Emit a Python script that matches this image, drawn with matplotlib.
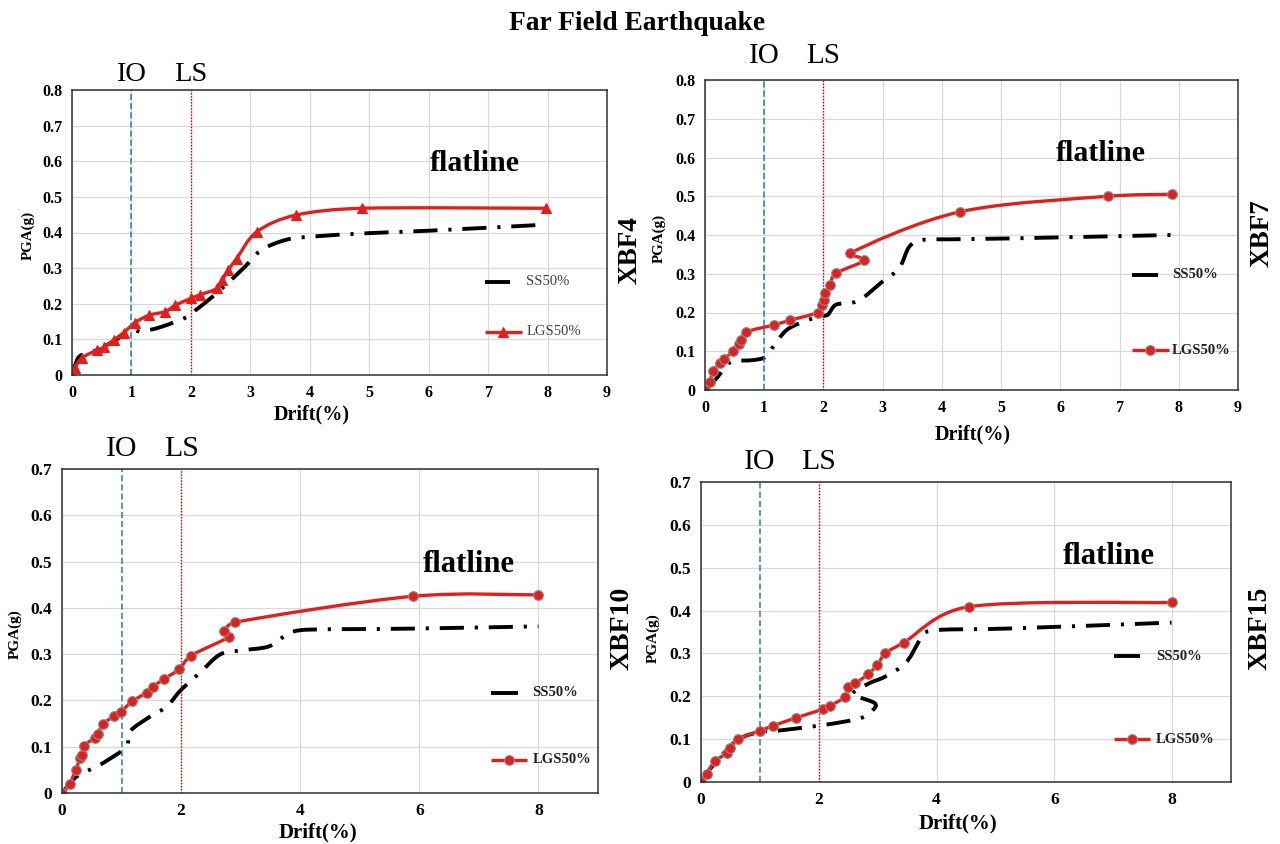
"""
Pushover-style PGA vs drift curves for four frames under far field records.
"""

import numpy as np
import matplotlib
matplotlib.use("Agg")
import matplotlib.pyplot as plt
from matplotlib.path import Path
from matplotlib.patches import PathPatch
from matplotlib.lines import Line2D
import matplotlib.transforms as mtransforms

plt.rcParams["font.family"] = ["Liberation Serif", "DejaVu Serif"]

FIG_W, FIG_H = 1280, 844

# =============================================================================
# DATA
# =============================================================================

# XBF4
LGS_X4 = [0, 0.05, 0.16, 0.42, 0.54, 0.70, 0.87, 1.06, 1.30, 1.57, 1.74, 2.00, 2.15,
          2.44, 2.53, 2.63, 2.77, 3.11, 3.77, 4.88, 7.98]
LGS_Y4 = [0, 0.019, 0.047, 0.070, 0.078, 0.098, 0.119, 0.147, 0.168, 0.178, 0.196, 0.215,
          0.225, 0.243, 0.267, 0.295, 0.327, 0.402, 0.449, 0.468, 0.468]
SS_X4 = [0, 0.08, 0.16, 0.45, 0.80, 1.00, 1.16, 1.50, 1.95, 2.08, 2.43, 2.91, 3.18, 3.59,
         4.00, 4.97, 6.00, 7.85]
SS_Y4 = [0, 0.040, 0.056, 0.072, 0.105, 0.126, 0.122, 0.135, 0.164, 0.182, 0.229, 0.304,
         0.350, 0.379, 0.388, 0.398, 0.405, 0.421]

# XBF7
LGS_X7 = [0, 0.08, 0.14, 0.26, 0.32, 0.47, 0.57, 0.61, 0.70, 1.17, 1.43, 1.90, 1.97, 2.01,
          2.03, 2.11, 2.21, 2.69, 2.45, 4.31, 6.81, 7.88]
LGS_Y7 = [0, 0.020, 0.050, 0.070, 0.080, 0.100, 0.120, 0.130, 0.150, 0.168, 0.180, 0.200,
          0.220, 0.232, 0.250, 0.271, 0.301, 0.335, 0.353, 0.460, 0.500, 0.505]
SS_X7 = [0, 0.17, 0.38, 0.48, 0.80, 1.03, 1.17, 1.38, 1.66, 1.93, 2.07, 2.21, 2.48, 2.66,
         3.03, 3.28, 3.45, 3.66, 4.20, 5.10, 7.86]
SS_Y7 = [0, 0.026, 0.065, 0.075, 0.077, 0.086, 0.116, 0.155, 0.176, 0.190, 0.194, 0.220,
         0.225, 0.237, 0.284, 0.314, 0.370, 0.387, 0.389, 0.391, 0.400]

# XBF10
LGS_X10 = [0, 0.13, 0.23, 0.31, 0.34, 0.37, 0.55, 0.60, 0.69, 0.88, 0.99, 1.18, 1.42, 1.52,
           1.71, 1.97, 2.17, 2.80, 2.72, 2.91, 5.89, 8.00]
LGS_Y10 = [0, 0.020, 0.050, 0.076, 0.083, 0.102, 0.119, 0.128, 0.149, 0.167, 0.176, 0.198,
           0.217, 0.229, 0.246, 0.268, 0.297, 0.337, 0.349, 0.369, 0.425, 0.428]
SS_X10 = [0, 0.25, 0.53, 0.73, 1.08, 1.14, 1.49, 1.76, 2.00, 2.31, 2.65, 3.00, 3.48, 3.82,
          4.16, 5.80, 8.00]
SS_Y10 = [0, 0.036, 0.054, 0.068, 0.100, 0.133, 0.166, 0.187, 0.223, 0.259, 0.299, 0.308,
          0.317, 0.346, 0.353, 0.355, 0.360]

# XBF15
LGS_X15 = [0, 0.10, 0.23, 0.44, 0.50, 0.63, 1.01, 1.22, 1.62, 2.07, 2.19, 2.45, 2.50, 2.62,
           2.83, 2.99, 3.13, 3.44, 4.55, 8.00]
LGS_Y15 = [0, 0.019, 0.048, 0.067, 0.079, 0.100, 0.120, 0.131, 0.150, 0.170, 0.178, 0.199,
           0.221, 0.230, 0.251, 0.272, 0.300, 0.325, 0.409, 0.419]
SS_X15 = [0, 0.21, 0.63, 1.04, 1.25, 2.08, 2.71, 2.92, 2.95, 2.64, 2.57, 2.85, 3.13, 3.47,
          3.68, 3.78, 4.03, 5.20, 7.99]
SS_Y15 = [0, 0.040, 0.099, 0.118, 0.119, 0.133, 0.149, 0.168, 0.184, 0.200, 0.207, 0.230,
          0.246, 0.277, 0.323, 0.347, 0.355, 0.358, 0.372]

IO_DRIFT = 1.0
LS_DRIFT = 2.0

RED = "#e0201c"
BLUE = "#2e75b6"
DARK_RED = "#c00000"


def px_rect(left, top, right, bottom):
    return [left / FIG_W, 1 - bottom / FIG_H, (right - left) / FIG_W, (bottom - top) / FIG_H]


def smooth_path(xs, ys, span, limit=0.4):
    """Excel-like smoothed line: Catmull-Rom Beziers, tangents clamped to avoid loops."""
    scale = np.asarray(span, dtype=float)
    pts = np.column_stack([xs, ys]).astype(float) / scale
    n = len(pts)
    verts = [pts[0]]
    codes = [Path.MOVETO]

    def clamp(d, seg):
        lim = limit * np.hypot(*seg)
        norm = np.hypot(*d)
        return d * (lim / norm) if norm > lim else d

    for i in range(n - 1):
        p0 = pts[i - 1] if i > 0 else pts[i]
        p1, p2 = pts[i], pts[i + 1]
        p3 = pts[i + 2] if i + 2 < n else pts[i + 1]
        seg = p2 - p1
        d1 = clamp((p2 - p0) / 6, seg)
        d2 = clamp((p3 - p1) / 6, seg)
        verts += [p1 + d1, p2 - d2, p2]
        codes += [Path.CURVE4] * 3
    return Path(np.array(verts) * scale, codes)


def draw_panel(ax, cfg):
    ymax = cfg["ymax"]
    ax.set_xlim(0, 9)
    ax.set_ylim(0, ymax)
    xt = np.arange(0, 9.01 if cfg["xstep"] == 1 else 8.01, cfg["xstep"])
    yt = np.round(np.arange(0, ymax + 0.001, 0.1), 1)
    ax.set_xticks(xt)
    ax.set_xticklabels([str(int(v)) for v in xt])
    ax.set_yticks(yt)
    ax.set_yticklabels(["0"] + [f"{v:.1f}" for v in yt[1:]])
    ax.grid(True, color="#d9d9d9", lw=0.9)
    ax.set_axisbelow(True)
    for sp in ax.spines.values():
        sp.set_color("#303030")
        sp.set_linewidth(1.1)
    ax.tick_params(length=0, labelsize=cfg["tick_fs"], pad=7)
    for lab in ax.get_xticklabels() + ax.get_yticklabels():
        lab.set_fontweight("bold")

    # limit-state markers
    ax.axvline(IO_DRIFT, color=BLUE, lw=1.1, ls=(0, (4, 2)))
    ax.axvline(LS_DRIFT, color=DARK_RED, lw=1.0, ls=(0, (1, 1.2)))
    trans = mtransforms.blended_transform_factory(ax.transData, ax.transAxes)
    for xv, txt in [(IO_DRIFT, "IO"), (LS_DRIFT, "LS")]:
        ax.text(xv, cfg["io_y"], txt, transform=trans, ha="center", va="baseline",
                fontsize=cfg["io_fs"])

    span = (9.0, ymax)
    # SS50% dash-dot curve
    ax.add_patch(PathPatch(smooth_path(cfg["ss_x"], cfg["ss_y"], span), fill=False,
                           color="black", lw=2.8, ls=(0, (6.2, 2.8, 0.8, 2.8)),
                           capstyle="butt"))
    # LGS50% curve with markers
    ax.add_patch(PathPatch(smooth_path(cfg["lgs_x"], cfg["lgs_y"], span), fill=False,
                           color=RED, lw=2.4, joinstyle="round"))
    ax.plot(cfg["lgs_x"], cfg["lgs_y"], ls="none", marker=cfg["marker"], ms=cfg["ms"],
            mfc=RED, mec=cfg["mec"], mew=0.8)

    ax.text(cfg["flat_xy"][0], cfg["flat_xy"][1], "flatline", ha="center", va="center",
            fontsize=cfg["flat_fs"], fontweight="bold")

    ax.set_xlabel("Drift(%)", fontsize=cfg["xl_fs"], fontweight="bold", va="center")
    ax.xaxis.set_label_coords(*cfg["xl_pos"])
    ax.set_ylabel("PGA(g)", fontsize=cfg["yl_fs"], fontweight="bold", va="center")
    ax.yaxis.set_label_coords(*cfg["yl_pos"])
    ax.text(cfg["name_pos"][0], cfg["name_pos"][1], cfg["name"], transform=ax.transAxes,
            rotation=90, ha="center", va="center", fontsize=cfg["name_fs"], fontweight="bold")

    # legend drawn in axes fraction
    lx0, ss_len, lgs_len, tx = cfg["leg_x"]
    ss_y, lgs_y = cfg["leg_y"]
    ax.add_line(Line2D([lx0, lx0 + ss_len], [ss_y, ss_y], transform=ax.transAxes,
                       color="black", lw=2.8, solid_capstyle="butt"))
    ax.add_line(Line2D([lx0, lx0 + lgs_len], [lgs_y, lgs_y], transform=ax.transAxes,
                       color=RED, lw=2.4, solid_capstyle="butt"))
    ax.add_line(Line2D([lx0 + lgs_len / 2], [lgs_y], transform=ax.transAxes, ls="none",
                       marker=cfg["marker"], ms=cfg["ms"], mfc=RED, mec=cfg["mec"], mew=0.8))
    leg_kw = dict(transform=ax.transAxes, va="center", ha="left", fontsize=10.5,
                  fontweight=cfg["leg_weight"], color=cfg["leg_color"])
    ax.text(tx, ss_y, "SS50%", **leg_kw)
    ax.text(tx, lgs_y, "LGS50%", **leg_kw)


PANELS = [
    dict(rect=px_rect(72, 90, 607, 375), ymax=0.8, xstep=1, name="XBF4",
         lgs_x=LGS_X4, lgs_y=LGS_Y4, ss_x=SS_X4, ss_y=SS_Y4, marker="^", ms=6.5, mec=RED,
         tick_fs=11.5, io_y=1.032, io_fs=20.5, flat_xy=(6.78, 0.594), flat_fs=21.5,
         xl_fs=14.5, xl_pos=(0.448, -0.14), yl_fs=10.8, yl_pos=(-0.082, 0.49),
         name_pos=(1.043, 0.44), name_fs=19.5,
         leg_x=(0.772, 0.047, 0.069, 0.849), leg_y=(0.3275, 0.152),
         leg_weight="normal", leg_color="#404040"),
    dict(rect=px_rect(705, 80, 1238, 390), ymax=0.8, xstep=1, name="XBF7",
         lgs_x=LGS_X7, lgs_y=LGS_Y7, ss_x=SS_X7, ss_y=SS_Y7, marker="o", ms=7, mec="#8c8c8c",
         tick_fs=11.5, io_y=1.055, io_fs=21, flat_xy=(6.68, 0.611), flat_fs=21.5,
         xl_fs=14.5, xl_pos=(0.502, -0.145), yl_fs=10.8, yl_pos=(-0.086, 0.49),
         name_pos=(1.045, 0.506), name_fs=19.5,
         leg_x=(0.801, 0.049, 0.069, 0.876), leg_y=(0.371, 0.129),
         leg_weight="bold", leg_color="#202020"),
    dict(rect=px_rect(62, 469, 598, 793), ymax=0.7, xstep=2, name="XBF10",
         lgs_x=LGS_X10, lgs_y=LGS_Y10, ss_x=SS_X10, ss_y=SS_Y10, marker="o", ms=7,
         mec="#8c8c8c", tick_fs=12.5, io_y=1.04, io_fs=21.5, flat_xy=(6.83, 0.493),
         flat_fs=22, xl_fs=15, xl_pos=(0.478, -0.123), yl_fs=11, yl_pos=(-0.088, 0.49),
         name_pos=(1.045, 0.509), name_fs=20,
         leg_x=(0.801, 0.049, 0.066, 0.878), leg_y=(0.309, 0.103),
         leg_weight="bold", leg_color="#202020"),
    dict(rect=px_rect(701, 482, 1231, 782), ymax=0.7, xstep=2, name="XBF15",
         lgs_x=LGS_X15, lgs_y=LGS_Y15, ss_x=SS_X15, ss_y=SS_Y15, marker="o", ms=7,
         mec="#8c8c8c", tick_fs=12.5, io_y=1.043, io_fs=21.5, flat_xy=(6.92, 0.525),
         flat_fs=22, xl_fs=15, xl_pos=(0.484, -0.137), yl_fs=11, yl_pos=(-0.091, 0.48),
         name_pos=(1.055, 0.513), name_fs=20,
         leg_x=(0.780, 0.049, 0.068, 0.858), leg_y=(0.42, 0.143),
         leg_weight="bold", leg_color="#202020"),
]


def main():
    fig = plt.figure(figsize=(FIG_W / 100, FIG_H / 100), dpi=100)
    for cfg in PANELS:
        ax = fig.add_axes(cfg["rect"])
        draw_panel(ax, cfg)
    fig.text(637 / FIG_W, 1 - 30 / FIG_H, "Far Field Earthquake", ha="center", va="baseline",
             fontsize=19.8, fontweight="bold")
    fig.savefig("out.png", dpi=100)
    plt.close(fig)


if __name__ == "__main__":
    main()
